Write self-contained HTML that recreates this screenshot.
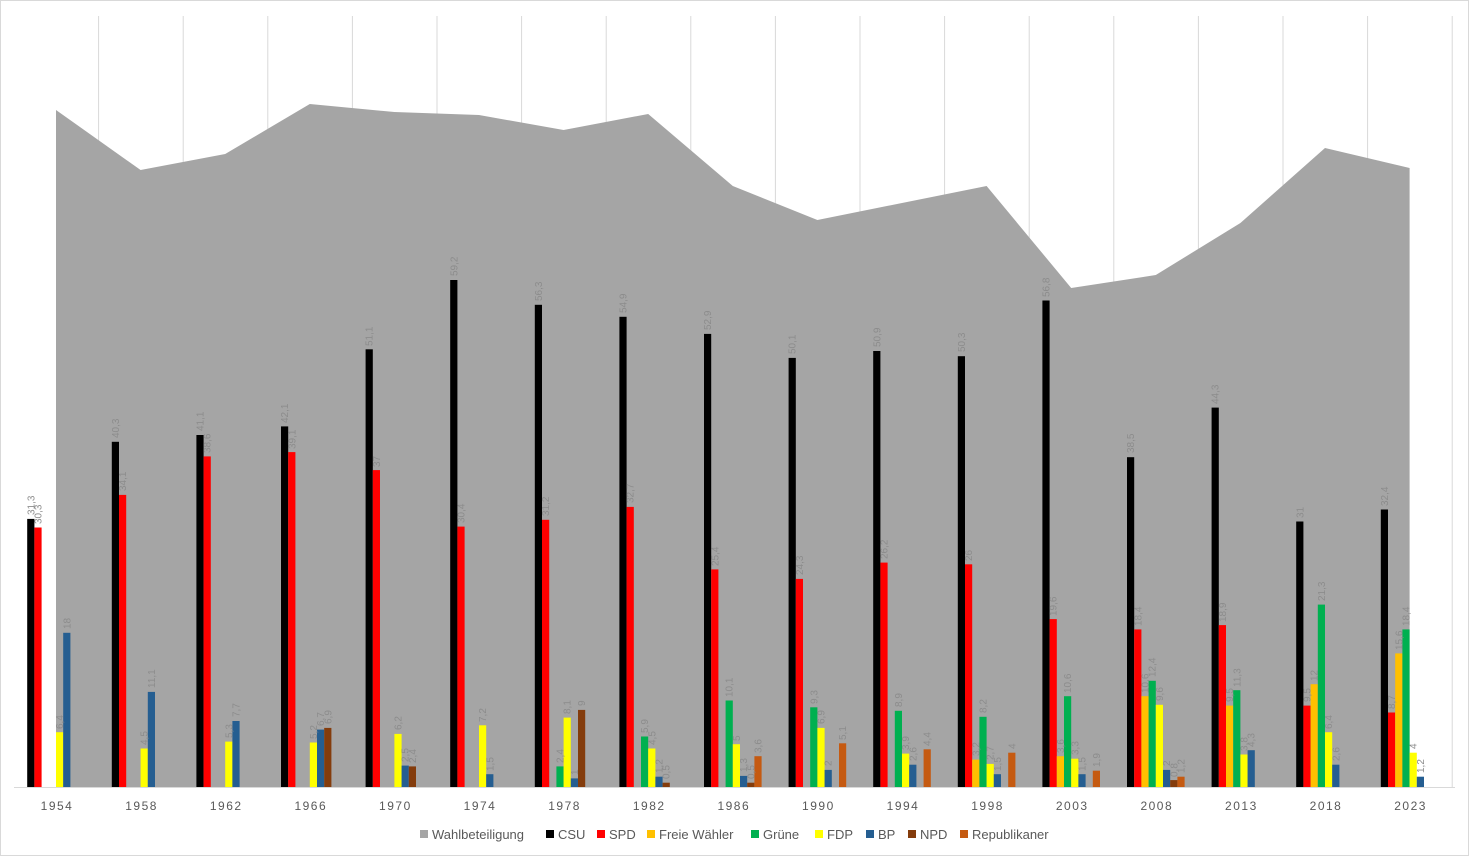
<!DOCTYPE html>
<html><head><meta charset="utf-8"><style>
html,body{margin:0;padding:0;background:#fff;}
svg{display:block;font-family:"Liberation Sans",sans-serif;}
.l{font-size:10px;fill:#8c8c8c;}
.x{font-size:12px;fill:#595959;letter-spacing:1.5px;}
.lg{font-size:13px;fill:#595959;}
</style></head><body>
<svg width="1469" height="856" viewBox="0 0 1469 856" xmlns="http://www.w3.org/2000/svg">
<rect x="0.5" y="0.5" width="1468" height="855" fill="#fff" stroke="#d9d9d9"/>
<g stroke="#d9d9d9" stroke-width="1">
<line x1="98.6" y1="16" x2="98.6" y2="787"/><line x1="183.2" y1="16" x2="183.2" y2="787"/><line x1="267.8" y1="16" x2="267.8" y2="787"/><line x1="352.4" y1="16" x2="352.4" y2="787"/><line x1="437" y1="16" x2="437" y2="787"/><line x1="521.6" y1="16" x2="521.6" y2="787"/><line x1="606.2" y1="16" x2="606.2" y2="787"/><line x1="690.8" y1="16" x2="690.8" y2="787"/><line x1="775.4" y1="16" x2="775.4" y2="787"/><line x1="860" y1="16" x2="860" y2="787"/><line x1="944.6" y1="16" x2="944.6" y2="787"/><line x1="1029.2" y1="16" x2="1029.2" y2="787"/><line x1="1113.8" y1="16" x2="1113.8" y2="787"/><line x1="1198.4" y1="16" x2="1198.4" y2="787"/><line x1="1283" y1="16" x2="1283" y2="787"/><line x1="1367.6" y1="16" x2="1367.6" y2="787"/><line x1="1452.2" y1="16" x2="1452.2" y2="787"/>
</g>
<polygon fill="#a5a5a5" points="56,787 56,110 140.6,170 225.2,154 309.8,104 394.4,112 479,115 563.6,130 648.2,114 732.8,186 817.4,220 902,203 986.6,186 1071.2,288 1155.8,275 1240.4,223 1325,148 1409.6,168 1409.6,787"/>
<line x1="14" y1="787.5" x2="1455" y2="787.5" stroke="#d9d9d9"/>

<!-- 1954 -->
<g transform="translate(56,787)">
<rect x="-28.8" y="-268.1" width="7.2" height="268.1" fill="#000"/>
<rect x="-21.6" y="-259.5" width="7.2" height="259.5" fill="#f00"/>
<rect x="0" y="-54.8" width="7.2" height="54.8" fill="#ff0"/>
<rect x="7.2" y="-154.2" width="7.2" height="154.2" fill="#255e91"/>
<text class="l" transform="translate(-21.7,-272) rotate(-90)">31,3</text>
<text class="l" transform="translate(-14.5,-263) rotate(-90)">30,3</text>
<text class="l" transform="translate(7.1,-58) rotate(-90)">6,4</text>
<text class="l" transform="translate(14.3,-158) rotate(-90)">18</text>
</g>
<!-- 1958 -->
<g transform="translate(140.6,787)">
<rect x="-28.8" y="-345.2" width="7.2" height="345.2" fill="#000"/>
<rect x="-21.6" y="-292.1" width="7.2" height="292.1" fill="#f00"/>
<rect x="0" y="-38.5" width="7.2" height="38.5" fill="#ff0"/>
<rect x="7.2" y="-95.1" width="7.2" height="95.1" fill="#255e91"/>
<text class="l" transform="translate(-21.7,-349) rotate(-90)">40,3</text>
<text class="l" transform="translate(-14.5,-296) rotate(-90)">34,1</text>
<text class="l" transform="translate(7.1,-42) rotate(-90)">4,5</text>
<text class="l" transform="translate(14.3,-99) rotate(-90)">11,1</text>
</g>
<!-- 1962 -->
<g transform="translate(225.2,787)">
<rect x="-28.8" y="-352" width="7.2" height="352" fill="#000"/>
<rect x="-21.6" y="-330.6" width="7.2" height="330.6" fill="#f00"/>
<rect x="0" y="-45.4" width="7.2" height="45.4" fill="#ff0"/>
<rect x="7.2" y="-66" width="7.2" height="66" fill="#255e91"/>
<text class="l" transform="translate(-21.7,-356) rotate(-90)">41,1</text>
<text class="l" transform="translate(-14.5,-334) rotate(-90)">38,6</text>
<text class="l" transform="translate(7.1,-49) rotate(-90)">5,3</text>
<text class="l" transform="translate(14.3,-70) rotate(-90)">7,7</text>
</g>
<!-- 1966 -->
<g transform="translate(309.8,787)">
<rect x="-28.8" y="-360.6" width="7.2" height="360.6" fill="#000"/>
<rect x="-21.6" y="-334.9" width="7.2" height="334.9" fill="#f00"/>
<rect x="0" y="-44.5" width="7.2" height="44.5" fill="#ff0"/>
<rect x="7.2" y="-57.4" width="7.2" height="57.4" fill="#255e91"/>
<rect x="14.4" y="-59.1" width="7.2" height="59.1" fill="#843c0c"/>
<text class="l" transform="translate(-21.7,-364) rotate(-90)">42,1</text>
<text class="l" transform="translate(-14.5,-338) rotate(-90)">39,1</text>
<text class="l" transform="translate(7.1,-48) rotate(-90)">5,2</text>
<text class="l" transform="translate(14.3,-61) rotate(-90)">6,7</text>
<text class="l" transform="translate(21.5,-63) rotate(-90)">6,9</text>
</g>
<!-- 1970 -->
<g transform="translate(394.4,787)">
<rect x="-28.8" y="-437.7" width="7.2" height="437.7" fill="#000"/>
<rect x="-21.6" y="-316.9" width="7.2" height="316.9" fill="#f00"/>
<rect x="0" y="-53.1" width="7.2" height="53.1" fill="#ff0"/>
<rect x="7.2" y="-21.4" width="7.2" height="21.4" fill="#255e91"/>
<rect x="14.4" y="-20.6" width="7.2" height="20.6" fill="#843c0c"/>
<text class="l" transform="translate(-21.7,-441) rotate(-90)">51,1</text>
<text class="l" transform="translate(-14.5,-320) rotate(-90)">37</text>
<text class="l" transform="translate(7.1,-57) rotate(-90)">6,2</text>
<text class="l" transform="translate(14.3,-25) rotate(-90)">2,5</text>
<text class="l" transform="translate(21.5,-24) rotate(-90)">2,4</text>
</g>
<!-- 1974 -->
<g transform="translate(479,787)">
<rect x="-28.8" y="-507" width="7.2" height="507" fill="#000"/>
<rect x="-21.6" y="-260.4" width="7.2" height="260.4" fill="#f00"/>
<rect x="0" y="-61.7" width="7.2" height="61.7" fill="#ff0"/>
<rect x="7.2" y="-12.8" width="7.2" height="12.8" fill="#255e91"/>
<text class="l" transform="translate(-21.7,-511) rotate(-90)">59,2</text>
<text class="l" transform="translate(-14.5,-264) rotate(-90)">30,4</text>
<text class="l" transform="translate(7.1,-65) rotate(-90)">7,2</text>
<text class="l" transform="translate(14.3,-16) rotate(-90)">1,5</text>
</g>
<!-- 1978 -->
<g transform="translate(563.6,787)">
<rect x="-28.8" y="-482.2" width="7.2" height="482.2" fill="#000"/>
<rect x="-21.6" y="-267.2" width="7.2" height="267.2" fill="#f00"/>
<rect x="-7.2" y="-20.6" width="7.2" height="20.6" fill="#00b050"/>
<rect x="0" y="-69.4" width="7.2" height="69.4" fill="#ff0"/>
<rect x="7.2" y="-8.6" width="7.2" height="8.6" fill="#255e91"/>
<rect x="14.4" y="-77.1" width="7.2" height="77.1" fill="#843c0c"/>
<text class="l" transform="translate(-21.7,-486) rotate(-90)">56,3</text>
<text class="l" transform="translate(-14.5,-271) rotate(-90)">31,2</text>
<text class="l" transform="translate(-0.1,-24) rotate(-90)">2,4</text>
<text class="l" transform="translate(7.1,-73) rotate(-90)">8,1</text>
<text class="l" transform="translate(14.3,-12) rotate(-90)">1</text>
<text class="l" transform="translate(21.5,-81) rotate(-90)">9</text>
</g>
<!-- 1982 -->
<g transform="translate(648.2,787)">
<rect x="-28.8" y="-470.2" width="7.2" height="470.2" fill="#000"/>
<rect x="-21.6" y="-280.1" width="7.2" height="280.1" fill="#f00"/>
<rect x="-7.2" y="-50.5" width="7.2" height="50.5" fill="#00b050"/>
<rect x="0" y="-38.5" width="7.2" height="38.5" fill="#ff0"/>
<rect x="7.2" y="-10.3" width="7.2" height="10.3" fill="#255e91"/>
<rect x="14.4" y="-4.3" width="7.2" height="4.3" fill="#843c0c"/>
<text class="l" transform="translate(-21.7,-474) rotate(-90)">54,9</text>
<text class="l" transform="translate(-14.5,-284) rotate(-90)">32,7</text>
<text class="l" transform="translate(-0.1,-54) rotate(-90)">5,9</text>
<text class="l" transform="translate(7.1,-42) rotate(-90)">4,5</text>
<text class="l" transform="translate(14.3,-14) rotate(-90)">1,2</text>
<text class="l" transform="translate(21.5,-8) rotate(-90)">0,5</text>
</g>
<!-- 1986 -->
<g transform="translate(732.8,787)">
<rect x="-28.8" y="-453.1" width="7.2" height="453.1" fill="#000"/>
<rect x="-21.6" y="-217.6" width="7.2" height="217.6" fill="#f00"/>
<rect x="-7.2" y="-86.5" width="7.2" height="86.5" fill="#00b050"/>
<rect x="0" y="-42.8" width="7.2" height="42.8" fill="#ff0"/>
<rect x="7.2" y="-11.1" width="7.2" height="11.1" fill="#255e91"/>
<rect x="14.4" y="-4.3" width="7.2" height="4.3" fill="#843c0c"/>
<rect x="21.6" y="-30.8" width="7.2" height="30.8" fill="#c55a11"/>
<text class="l" transform="translate(-21.7,-457) rotate(-90)">52,9</text>
<text class="l" transform="translate(-14.5,-221) rotate(-90)">25,4</text>
<text class="l" transform="translate(-0.1,-90) rotate(-90)">10,1</text>
<text class="l" transform="translate(7.1,-46) rotate(-90)">5</text>
<text class="l" transform="translate(14.3,-15) rotate(-90)">1,3</text>
<text class="l" transform="translate(21.5,-8) rotate(-90)">0,5</text>
<text class="l" transform="translate(28.7,-34) rotate(-90)">3,6</text>
</g>
<!-- 1990 -->
<g transform="translate(817.4,787)">
<rect x="-28.8" y="-429.1" width="7.2" height="429.1" fill="#000"/>
<rect x="-21.6" y="-208.1" width="7.2" height="208.1" fill="#f00"/>
<rect x="-7.2" y="-79.7" width="7.2" height="79.7" fill="#00b050"/>
<rect x="0" y="-59.1" width="7.2" height="59.1" fill="#ff0"/>
<rect x="7.2" y="-17.1" width="7.2" height="17.1" fill="#255e91"/>
<rect x="21.6" y="-43.7" width="7.2" height="43.7" fill="#c55a11"/>
<text class="l" transform="translate(-21.7,-433) rotate(-90)">50,1</text>
<text class="l" transform="translate(-14.5,-212) rotate(-90)">24,3</text>
<text class="l" transform="translate(-0.1,-83) rotate(-90)">9,3</text>
<text class="l" transform="translate(7.1,-63) rotate(-90)">6,9</text>
<text class="l" transform="translate(14.3,-21) rotate(-90)">2</text>
<text class="l" transform="translate(28.7,-47) rotate(-90)">5,1</text>
</g>
<!-- 1994 -->
<g transform="translate(902,787)">
<rect x="-28.8" y="-436" width="7.2" height="436" fill="#000"/>
<rect x="-21.6" y="-224.4" width="7.2" height="224.4" fill="#f00"/>
<rect x="-7.2" y="-76.2" width="7.2" height="76.2" fill="#00b050"/>
<rect x="0" y="-33.4" width="7.2" height="33.4" fill="#ff0"/>
<rect x="7.2" y="-22.3" width="7.2" height="22.3" fill="#255e91"/>
<rect x="21.6" y="-37.7" width="7.2" height="37.7" fill="#c55a11"/>
<text class="l" transform="translate(-21.7,-440) rotate(-90)">50,9</text>
<text class="l" transform="translate(-14.5,-228) rotate(-90)">26,2</text>
<text class="l" transform="translate(-0.1,-80) rotate(-90)">8,9</text>
<text class="l" transform="translate(7.1,-37) rotate(-90)">3,9</text>
<text class="l" transform="translate(14.3,-26) rotate(-90)">2,6</text>
<text class="l" transform="translate(28.7,-41) rotate(-90)">4,4</text>
</g>
<!-- 1998 -->
<g transform="translate(986.6,787)">
<rect x="-28.8" y="-430.8" width="7.2" height="430.8" fill="#000"/>
<rect x="-21.6" y="-222.7" width="7.2" height="222.7" fill="#f00"/>
<rect x="-14.4" y="-27.4" width="7.2" height="27.4" fill="#ffc000"/>
<rect x="-7.2" y="-70.2" width="7.2" height="70.2" fill="#00b050"/>
<rect x="0" y="-23.1" width="7.2" height="23.1" fill="#ff0"/>
<rect x="7.2" y="-12.8" width="7.2" height="12.8" fill="#255e91"/>
<rect x="21.6" y="-34.3" width="7.2" height="34.3" fill="#c55a11"/>
<text class="l" transform="translate(-21.7,-435) rotate(-90)">50,3</text>
<text class="l" transform="translate(-14.5,-226) rotate(-90)">26</text>
<text class="l" transform="translate(-7.3,-31) rotate(-90)">3,2</text>
<text class="l" transform="translate(-0.1,-74) rotate(-90)">8,2</text>
<text class="l" transform="translate(7.1,-27) rotate(-90)">2,7</text>
<text class="l" transform="translate(14.3,-16) rotate(-90)">1,5</text>
<text class="l" transform="translate(28.7,-38) rotate(-90)">4</text>
</g>
<!-- 2003 -->
<g transform="translate(1071.2,787)">
<rect x="-28.8" y="-486.5" width="7.2" height="486.5" fill="#000"/>
<rect x="-21.6" y="-167.9" width="7.2" height="167.9" fill="#f00"/>
<rect x="-14.4" y="-30.8" width="7.2" height="30.8" fill="#ffc000"/>
<rect x="-7.2" y="-90.8" width="7.2" height="90.8" fill="#00b050"/>
<rect x="0" y="-28.3" width="7.2" height="28.3" fill="#ff0"/>
<rect x="7.2" y="-12.8" width="7.2" height="12.8" fill="#255e91"/>
<rect x="21.6" y="-16.3" width="7.2" height="16.3" fill="#c55a11"/>
<text class="l" transform="translate(-21.7,-490) rotate(-90)">56,8</text>
<text class="l" transform="translate(-14.5,-171) rotate(-90)">19,6</text>
<text class="l" transform="translate(-7.3,-34) rotate(-90)">3,6</text>
<text class="l" transform="translate(-0.1,-94) rotate(-90)">10,6</text>
<text class="l" transform="translate(7.1,-32) rotate(-90)">3,3</text>
<text class="l" transform="translate(14.3,-16) rotate(-90)">1,5</text>
<text class="l" transform="translate(28.7,-20) rotate(-90)">1,9</text>
</g>
<!-- 2008 -->
<g transform="translate(1155.8,787)">
<rect x="-28.8" y="-329.8" width="7.2" height="329.8" fill="#000"/>
<rect x="-21.6" y="-157.6" width="7.2" height="157.6" fill="#f00"/>
<rect x="-14.4" y="-90.8" width="7.2" height="90.8" fill="#ffc000"/>
<rect x="-7.2" y="-106.2" width="7.2" height="106.2" fill="#00b050"/>
<rect x="0" y="-82.2" width="7.2" height="82.2" fill="#ff0"/>
<rect x="7.2" y="-17.1" width="7.2" height="17.1" fill="#255e91"/>
<rect x="14.4" y="-6.9" width="7.2" height="6.9" fill="#843c0c"/>
<rect x="21.6" y="-10.3" width="7.2" height="10.3" fill="#c55a11"/>
<text class="l" transform="translate(-21.7,-334) rotate(-90)">38,5</text>
<text class="l" transform="translate(-14.5,-161) rotate(-90)">18,4</text>
<text class="l" transform="translate(-7.3,-94) rotate(-90)">10,6</text>
<text class="l" transform="translate(-0.1,-110) rotate(-90)">12,4</text>
<text class="l" transform="translate(7.1,-86) rotate(-90)">9,6</text>
<text class="l" transform="translate(14.3,-21) rotate(-90)">2</text>
<text class="l" transform="translate(21.5,-10) rotate(-90)">0,8</text>
<text class="l" transform="translate(28.7,-14) rotate(-90)">1,2</text>
</g>
<!-- 2013 -->
<g transform="translate(1240.4,787)">
<rect x="-28.8" y="-379.4" width="7.2" height="379.4" fill="#000"/>
<rect x="-21.6" y="-161.9" width="7.2" height="161.9" fill="#f00"/>
<rect x="-14.4" y="-81.4" width="7.2" height="81.4" fill="#ffc000"/>
<rect x="-7.2" y="-96.8" width="7.2" height="96.8" fill="#00b050"/>
<rect x="0" y="-32.5" width="7.2" height="32.5" fill="#ff0"/>
<rect x="7.2" y="-36.8" width="7.2" height="36.8" fill="#255e91"/>
<text class="l" transform="translate(-21.7,-383) rotate(-90)">44,3</text>
<text class="l" transform="translate(-14.5,-165) rotate(-90)">18,9</text>
<text class="l" transform="translate(-7.3,-85) rotate(-90)">9,5</text>
<text class="l" transform="translate(-0.1,-100) rotate(-90)">11,3</text>
<text class="l" transform="translate(7.1,-36) rotate(-90)">3,8</text>
<text class="l" transform="translate(14.3,-40) rotate(-90)">4,3</text>
</g>
<!-- 2018 -->
<g transform="translate(1325,787)">
<rect x="-28.8" y="-265.5" width="7.2" height="265.5" fill="#000"/>
<rect x="-21.6" y="-81.4" width="7.2" height="81.4" fill="#f00"/>
<rect x="-14.4" y="-102.8" width="7.2" height="102.8" fill="#ffc000"/>
<rect x="-7.2" y="-182.4" width="7.2" height="182.4" fill="#00b050"/>
<rect x="0" y="-54.8" width="7.2" height="54.8" fill="#ff0"/>
<rect x="7.2" y="-22.3" width="7.2" height="22.3" fill="#255e91"/>
<text class="l" transform="translate(-21.7,-269) rotate(-90)">31</text>
<text class="l" transform="translate(-14.5,-85) rotate(-90)">9,5</text>
<text class="l" transform="translate(-7.3,-106) rotate(-90)">12</text>
<text class="l" transform="translate(-0.1,-186) rotate(-90)">21,3</text>
<text class="l" transform="translate(7.1,-58) rotate(-90)">6,4</text>
<text class="l" transform="translate(14.3,-26) rotate(-90)">2,6</text>
</g>
<!-- 2023 -->
<g transform="translate(1409.6,787)">
<rect x="-28.8" y="-277.5" width="7.2" height="277.5" fill="#000"/>
<rect x="-21.6" y="-74.5" width="7.2" height="74.5" fill="#f00"/>
<rect x="-14.4" y="-133.6" width="7.2" height="133.6" fill="#ffc000"/>
<rect x="-7.2" y="-157.6" width="7.2" height="157.6" fill="#00b050"/>
<rect x="0" y="-34.3" width="7.2" height="34.3" fill="#ff0"/>
<rect x="7.2" y="-10.3" width="7.2" height="10.3" fill="#255e91"/>
<text class="l" transform="translate(-21.7,-281) rotate(-90)">32,4</text>
<text class="l" transform="translate(-14.5,-78) rotate(-90)">8,7</text>
<text class="l" transform="translate(-7.3,-137) rotate(-90)">15,6</text>
<text class="l" transform="translate(-0.1,-161) rotate(-90)">18,4</text>
<text class="l" transform="translate(7.1,-38) rotate(-90)">4</text>
<text class="l" transform="translate(14.3,-14) rotate(-90)">1,2</text>
</g>

<g class="x" text-anchor="middle">
<text x="57" y="810">1954</text><text x="141.6" y="810">1958</text><text x="226.2" y="810">1962</text><text x="310.8" y="810">1966</text><text x="395.4" y="810">1970</text><text x="480" y="810">1974</text><text x="564.6" y="810">1978</text><text x="649.2" y="810">1982</text><text x="733.8" y="810">1986</text><text x="818.4" y="810">1990</text><text x="903" y="810">1994</text><text x="987.6" y="810">1998</text><text x="1072.2" y="810">2003</text><text x="1156.8" y="810">2008</text><text x="1241.4" y="810">2013</text><text x="1326" y="810">2018</text><text x="1410.6" y="810">2023</text>
</g>

<g class="lg">
<rect x="420" y="830" width="8" height="8" fill="#a5a5a5"/><text x="432" y="839">Wahlbeteiligung</text>
<rect x="546" y="830" width="8" height="8" fill="#000"/><text x="558" y="839">CSU</text>
<rect x="597" y="830" width="8" height="8" fill="#f00"/><text x="609" y="839">SPD</text>
<rect x="647" y="830" width="8" height="8" fill="#ffc000"/><text x="659" y="839">Freie Wähler</text>
<rect x="751" y="830" width="8" height="8" fill="#00b050"/><text x="763" y="839">Grüne</text>
<rect x="815" y="830" width="8" height="8" fill="#ff0"/><text x="827" y="839">FDP</text>
<rect x="866" y="830" width="8" height="8" fill="#255e91"/><text x="878" y="839">BP</text>
<rect x="908" y="830" width="8" height="8" fill="#843c0c"/><text x="920" y="839">NPD</text>
<rect x="960" y="830" width="8" height="8" fill="#c55a11"/><text x="972" y="839">Republikaner</text>
</g>
</svg>
</body></html>
